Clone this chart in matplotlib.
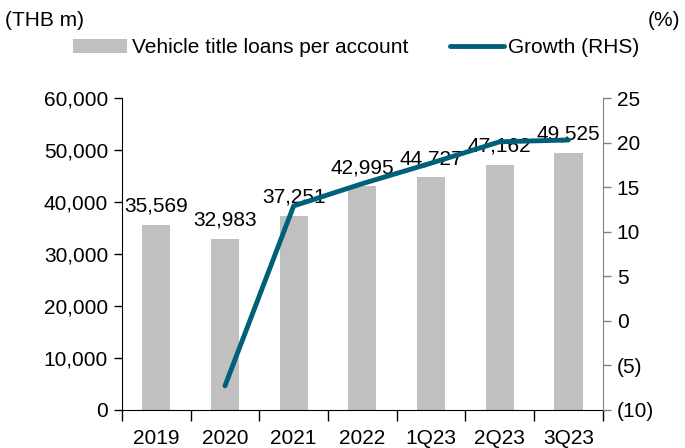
import numpy as np
import matplotlib.pyplot as plt
from matplotlib.ticker import FuncFormatter, MultipleLocator

plt.rcParams['font.family'] = ['Liberation Sans', 'DejaVu Sans']

# data
periods = ['2019', '2020', '2021', '2022', '1Q23', '2Q23', '3Q23']
loans = [35569, 32983, 37251, 42995, 44727, 47162, 49525]
growth = [np.nan, -7.3, 12.9, 15.4, 17.7, 20.1, 20.3]

bar_color = '#C0C0C0'
line_color = '#005F79'

fig = plt.figure(figsize=(6.85, 4.48), dpi=100)
ax = fig.add_axes([0.178, 0.085, 0.702, 0.696])
x = np.arange(len(periods))

ax.bar(x, loans, width=0.41, color=bar_color, label='Vehicle title loans per account', zorder=2)
for xi, v in zip(x, loans):
    ax.text(xi, v + 1800, f'{v:,}', ha='center', va='bottom', fontsize=15, zorder=5)

ax.set_xlim(-0.5, len(periods) - 0.5)
ax.set_ylim(0, 60000)
ax.yaxis.set_major_locator(MultipleLocator(10000))
ax.yaxis.set_major_formatter(FuncFormatter(lambda v, p: f'{int(v):,}'))
ax.set_xticks(x)
ax.set_xticklabels(periods)
ax.set_xticks(np.arange(-0.5, len(periods)), minor=True)
ax.tick_params(axis='x', which='major', length=0, labelsize=15, pad=14)
ax.tick_params(axis='x', which='minor', length=8, width=1)
ax.tick_params(axis='y', length=6, width=1, labelsize=15, pad=4)
ax.spines['top'].set_visible(False)
ax.spines['right'].set_visible(False)

ax2 = ax.twinx()
ax2.plot(x, growth, color=line_color, lw=3.5, solid_capstyle='round',
         label='Growth (RHS)', zorder=4)
ax2.set_ylim(-10, 25)
ax2.yaxis.set_major_locator(MultipleLocator(5))
ax2.yaxis.set_major_formatter(FuncFormatter(
    lambda v, p: f'({abs(int(v))})' if v < 0 else f'{int(v)}'))
ax2.tick_params(axis='y', length=6, width=1, colors='#808080', labelcolor='black',
                labelsize=15, pad=4)
ax2.spines['right'].set_color('#808080')
ax2.spines['top'].set_visible(False)
ax2.spines['left'].set_visible(False)
ax2.spines['bottom'].set_visible(False)

h1, l1 = ax.get_legend_handles_labels()
h2, l2 = ax2.get_legend_handles_labels()
fig.legend(h1 + h2, l1 + l2, loc='center', bbox_to_anchor=(0.52, 0.893), ncol=2,
           frameon=False, fontsize=15, handlelength=2.6, handletextpad=0.2,
           columnspacing=2.0)

fig.text(0.007, 0.955, '(THB m)', fontsize=15, ha='left', va='center')
fig.text(0.993, 0.955, '(%)', fontsize=15, ha='right', va='center')

fig.savefig('out.png', dpi=100)
